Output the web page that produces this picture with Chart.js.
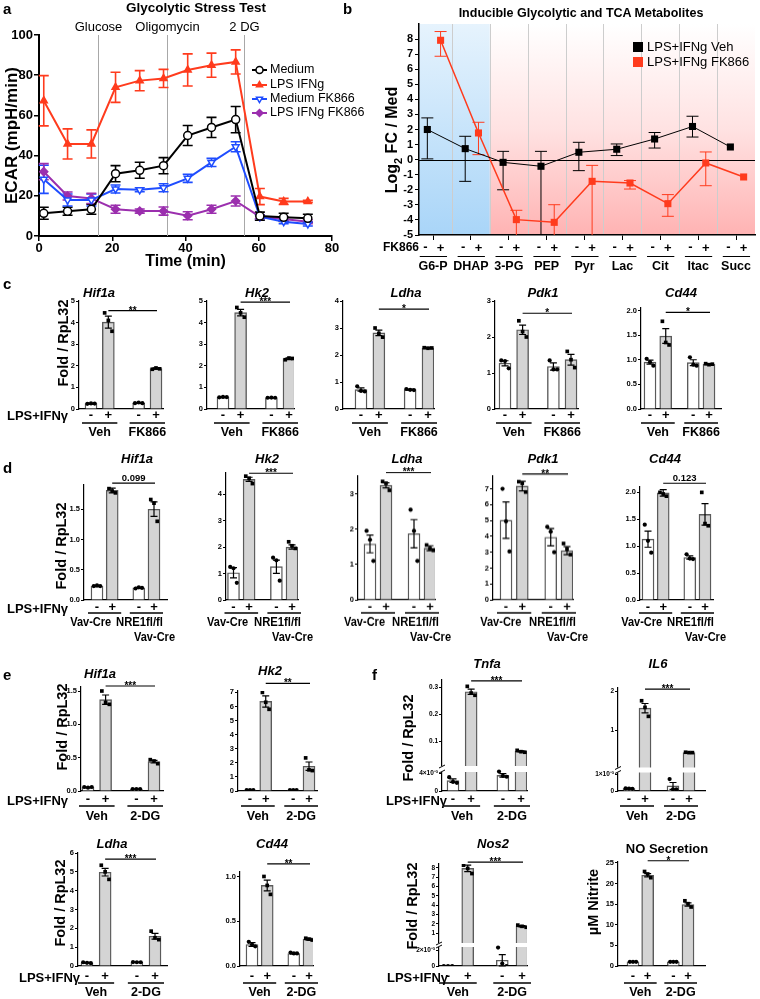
<!DOCTYPE html>
<html>
<head>
<meta charset="utf-8">
<script src="https://cdn.jsdelivr.net/npm/chart.js@4.4.1/dist/chart.umd.min.js"></script>
<style>
  body { margin: 0; background: #fff; }
  #fig { position: relative; width: 760px; height: 999px; overflow: hidden; font-family: "Liberation Sans", Arial, sans-serif; color: #000; }
  #fig canvas { position: absolute; }
  .t { position: absolute; white-space: nowrap; font-weight: bold; line-height: 1; }
</style>
</head>
<body>
<div id="fig"></div>
<script>
// ---- panel a : glycolytic stress test (ECAR) ----
const aTime = [1.3, 7.8, 14.3, 20.9, 27.5, 34, 40.6, 47.1, 53.7, 60.3, 66.8, 73.4];
const aSeries = ['Medium', 'LPS IFNg', 'Medium FK866', 'LPS IFNg FK866'];
const aMedium = [11.3, 12.3, 13.3, 31, 32.7, 35, 50, 54, 57.9, 9.9, 9.3, 8.8];
const aLps = [67.3, 45.8, 45.8, 74, 77.3, 78.4, 82.6, 85, 86.6, 19.6, 17.2, 17.2];
const aMedFk = [28.2, 17.9, 17.9, 23.4, 23, 24, 28.7, 36.6, 44.4, 9.6, 7.1, 6.0];
const aLpsFk = [32, 19.9, 18.7, 13.3, 12.4, 12.4, 10.1, 13.3, 17.4, 9.6, 8.5, 7.1];
const aMediumSem = [3, 2, 2.5, 4, 4, 4, 5, 5, 6.5, 2, 2, 2];
const aLpsSem = [12.5, 7.5, 7, 7.5, 5, 4.5, 8, 6, 6, 4, 1.5, 0.5];
const aMedFkSem = [7, 3, 3, 2, 1, 2, 2, 2, 2.5, 1, 1, 1];
const aLpsFkSem = [4, 2, 2.5, 2, 1, 2, 2, 2, 2.5, 1, 1, 1];
const aInject = [16, 35, 56];
const aInjectNames = ['Glucose', 'Oligomycin', '2 DG'];
const aXTicks = [0, 20, 40, 60, 80];
const aYTicks = [0, 20, 40, 60, 80, 100];

// ---- panel b : metabolites, log2 FC vs medium ----
const bCats = ['G6-P', 'DHAP', '3-PG', 'PEP', 'Pyr', 'Lac', 'Cit', 'Itac', 'Succ'];
const bSeries = ['LPS+IFNg Veh', 'LPS+IFNg FK866'];
const bVeh = [2.0, 0.73, -0.18, -0.44, 0.49, 0.69, 1.37, 2.2, 0.84];
const bVehLo = [0.05, -1.44, -2.0, -5.5, -0.73, 0.27, 0.77, 1.5, 0.84];
const bVehHi = [2.77, 1.55, 0.55, 0.55, 1.15, 1.04, 1.8, 2.88, 0.84];
const bFk = [7.92, 1.77, -3.98, -4.16, -1.44, -1.55, -2.92, -0.22, -1.15];
const bFkLo = [6.86, 0.33, -5.5, -5.5, -5.5, -1.95, -3.76, -1.73, -1.15];
const bFkHi = [8.5, 2.48, -3.36, -2.99, -0.38, -1.39, -2.32, 0.51, -1.15];
const bGlycoCount = 2;   // G6-P and DHAP sit on the blue side
const bTicks = [-5, -4, -3, -2, -1, 0, 1, 2, 3, 4, 5, 6, 7, 8];

// ---- panel c : FK866 qPCR ----
const cGenes = ['Hif1a', 'Hk2', 'Ldha', 'Pdk1', 'Cd44'];
const cGroups = [['Veh'], ['FK866']];
const cMean = [[0.25, 4.02, 0.28, 1.87], [0.55, 4.46, 0.52, 2.33], [0.72, 2.82, 0.72, 2.26], [1.27, 2.2, 1.18, 1.37], [0.95, 1.48, 0.94, 0.91]];
const cSem = [[0.02, 0.28, 0.02, 0.03], [0.02, 0.15, 0.01, 0.04], [0.06, 0.1, 0.02, 0.02], [0.07, 0.13, 0.1, 0.15], [0.04, 0.15, 0.06, 0.01]];
const cPts = [
  [[0.24, 0.26, 0.25], [4.45, 4.1, 3.6], [0.27, 0.3, 0.27], [1.84, 1.9, 1.86]],
  [[0.54, 0.56, 0.55], [4.7, 4.45, 4.25], [0.52, 0.53, 0.52], [2.28, 2.36, 2.34]],
  [[0.84, 0.67, 0.65], [3.0, 2.8, 2.66], [0.74, 0.71, 0.7], [2.27, 2.25, 2.26]],
  [[1.35, 1.33, 1.13], [2.45, 2.15, 2.0], [1.35, 1.1, 1.1], [1.6, 1.37, 1.15]],
  [[1.02, 0.95, 0.88], [1.78, 1.35, 1.3], [1.05, 0.9, 0.88], [0.92, 0.9, 0.91]]];
const cSig = ['**', '***', '*', '*', '*'];
const cTicks = [[0, 1, 2, 3, 4, 5], [0, 1, 2, 3, 4, 5], [0, 1, 2, 3, 4], [0, 1, 2, 3], [0, 0.5, 1, 1.5, 2]];

// ---- panel d : NRE1 knockout qPCR ----
const dGenes = ['Hif1a', 'Hk2', 'Ldha', 'Pdk1', 'Cd44'];
const dGroups = [['Vav-Cre'], ['NRE1fl/fl', 'Vav-Cre']];
const dMean = [[0.23, 1.81, 0.2, 1.5], [1.03, 4.56, 1.26, 2.0], [1.58, 3.24, 1.87, 1.46], [5.02, 7.17, 3.95, 3.1], [1.13, 1.99, 0.79, 1.59]];
const dSem = [[0.01, 0.04, 0.01, 0.12], [0.19, 0.08, 0.25, 0.08], [0.25, 0.07, 0.4, 0.07], [1.15, 0.3, 0.55, 0.25], [0.15, 0.06, 0.03, 0.2]];
const dPts = [
  [[0.23, 0.24, 0.23], [1.84, 1.8, 1.77], [0.19, 0.21, 0.2], [1.66, 1.6, 1.3]],
  [[1.25, 1.2, 0.65], [4.68, 4.6, 4.4], [1.6, 1.5, 0.73], [2.2, 2.05, 1.95]],
  [[1.95, 1.7, 1.1], [3.35, 3.3, 3.1], [2.55, 1.95, 1.1], [1.55, 1.45, 1.4]],
  [[7.0, 4.95, 3.05], [7.45, 7.35, 6.8], [4.6, 4.3, 3.0], [3.55, 3.2, 2.85]],
  [[1.4, 1.1, 0.88], [2.0, 1.97, 1.93], [0.85, 0.77, 0.76], [2.0, 1.42, 1.38]]];
const dSig = ['0.099', '***', '***', '**', '0.123'];
const dTicks = [[0, 0.5, 1, 1.5], [0, 1, 2, 3, 4], [0, 1, 2, 3], [0, 1, 2, 3, 4, 5, 6, 7], [0, 0.5, 1, 1.5, 2]];

// ---- panels e / f : 2-DG ----
const eGenes = ['Hif1a', 'Hk2', 'Tnfa', 'IL6', 'Ldha', 'Cd44', 'Nos2', 'NO Secretion'];
const eGroups = [['Veh'], ['2-DG']];
const eMean = [
  [0.055, 1.37, 0.03, 0.44], [0.06, 6.36, 0.06, 1.76], [0.0024, 0.285, 0.0036, 0.064], [0.00014, 1.56, 0.0003, 0.42],
  [0.17, 4.98, 0.2, 1.58], [0.24, 0.9, 0.14, 0.3], [0, 7.95, 0.00072, 1.73], [1.0, 22.0, 1.0, 14.9]];
const eSem = [
  [0.005, 0.07, 0.002, 0.02], [0.005, 0.4, 0.005, 0.3], [0.0004, 0.01, 0.0004, 0.002], [0.00003, 0.12, 0.0002, 0.005],
  [0.02, 0.2, 0.01, 0.15], [0.02, 0.06, 0.005, 0.01], [0, 0.35, 0.0007, 0.07], [0.05, 0.4, 0.05, 0.4]];
const ePts = [
  [[0.06, 0.05, 0.06], [1.5, 1.33, 1.3], [0.03, 0.03, 0.03], [0.47, 0.45, 0.41]],
  [[0.06, 0.06, 0.06], [7.0, 6.3, 5.8], [0.06, 0.06, 0.06], [2.35, 1.5, 1.45]],
  [[0.0032, 0.0021, 0.0019], [0.305, 0.28, 0.272], [0.0045, 0.0035, 0.0033], [0.068, 0.063, 0.061]],
  [[0.00015, 0.00014, 0.00013], [1.75, 1.58, 1.35], [0.0007, 0.0001, 0.0001], [0.43, 0.42, 0.42]],
  [[0.2, 0.17, 0.15], [5.35, 5.0, 4.6], [0.21, 0.2, 0.2], [1.85, 1.5, 1.4]],
  [[0.27, 0.24, 0.22], [1.0, 0.9, 0.8], [0.15, 0.14, 0.14], [0.31, 0.3, 0.29]],
  [[0, 0, 0], [8.3, 7.95, 7.4], [0.0023, 0.0003, 0], [1.85, 1.72, 1.62]],
  [[1.0, 1.0, 1.0], [22.9, 22.3, 21.4], [1.0, 1.0, 1.0], [15.8, 15.1, 14.3]]];
const eSig = ['***', '**', '***', '***', '***', '**', '***', '*'];
const eTicks = [[0, 0.5, 1, 1.5], [0, 1, 2, 3, 4, 5, 6, 7], [0, 0.004, 0.1, 0.2, 0.3], [0, 0.001, 1, 2],
  [0, 1, 2, 3, 4, 5, 6], [0, 0.5, 1], [0, 0.002, 1, 2, 3, 4, 5, 6, 7, 8], [0, 5, 10, 15, 20, 25]];
const eTickLab = [null, null, ['0', '4×10⁻³', '0.1', '0.2', '0.3'], ['0', '1×10⁻³', '1', '2'], null, null,
  ['0', '2×10⁻³', '1', '2', '3', '4', '5', '6', '7', '8'], null];

// ---- layout (pixel geometry, kept apart from the values) ----
// ax/right: plot x extent, b0/b3: centre of first and last bar, top: y of the axis top
const FONT = '"Liberation Sans", Arial, sans-serif';
const RED = '#ff3b1d', BLUE = '#1f4dff', PURPLE = '#9b2fae';
const rowC = {bottom: 409, B: 34, tp: -1, ul: 14, nm: 24, titleY: 292};
const rowD = {bottom: 600, B: 48, tp: 0, ul: 13, nm: 23, titleY: 458, nameDx: [[-10], [0, 12]]};
const rowE1 = {bottom: 791, B: 34, tp: 1, ul: 15, nm: 26};
const rowE2 = {bottom: 966, B: 33, tp: 3, ul: 17, nm: 27};
const cLay = [
  {ax: 79, right: 163, b0: 91, b3: 156, top: 301, ymax: 5, tx: 99, sigY: 4.55},
  {ax: 207, right: 294, b0: 223, b3: 289, top: 301, ymax: 5, tx: 257, sigY: 4.95},
  {ax: 343, right: 434, b0: 361, b3: 428, top: 301, ymax: 4, tx: 406, sigY: 3.7},
  {ax: 495, right: 578, b0: 505, b3: 571, top: 301, ymax: 3, tx: 543, sigY: 2.66},
  {ax: 641, right: 721, b0: 650, b3: 709, top: 307.5, ymax: 2.05, tx: 681, sigY: 1.96}];
const dLay = [
  {ax: 84, right: 167, b0: 97, b3: 154, top: 484.7, ymax: 1.9, tx: 137, sigY: 1.93},
  {ax: 226, right: 298, b0: 233.5, b3: 292, top: 472.8, ymax: 4.8, tx: 267, sigY: 4.79},
  {ax: 358, right: 435, b0: 370, b3: 430, top: 476.3, ymax: 3.5, tx: 407, sigY: 3.6},
  {ax: 493, right: 573, b0: 506, b3: 567, top: 476.3, ymax: 7.8, tx: 543, sigY: 7.94},
  {ax: 640, right: 713, b0: 648, b3: 705, top: 486.6, ymax: 2.1, tx: 665, sigY: 2.17}];
const eLay = [
  {ax: 81, right: 163, b0: 88, b3: 154, top: 687, ymax: 1.56, tx: 100, ty: 673, sigY: 1.575},
  {ax: 238, right: 317, b0: 250, b3: 309, top: 690.6, ymax: 7.1, tx: 270, ty: 670, sigY: 7.64},
  {ax: 442, right: 527, b0: 453, b3: 521, top: 680, tx: 487, ty: 663, sigY: 0.325,
   brk: {lowMax: 0.004, lowH: 17.3, cut: 0.005, base: 22.3, k: 270, gapLo: 19, gapHi: 25}},
  {ax: 618, right: 705, b0: 629, b3: 689, top: 688, tx: 658, ty: 663, sigY: 2.05,
   brk: {lowMax: 0.001, lowH: 17, cut: 0.0012, base: 22, k: 39, gapLo: 18.5, gapHi: 23.5}},
  {ax: 78, right: 167, b0: 87, b3: 155, top: 853, ymax: 6, tx: 112, ty: 843, sigY: 5.68},
  {ax: 240, right: 313, b0: 252, b3: 309, top: 871.5, ymax: 1.05, tx: 272, ty: 843, sigY: 1.14},
  {ax: 439, right: 527, b0: 448, b3: 522, top: 864, tx: 493, ty: 843, sigY: 8.64,
   brk: {lowMax: 0.002, lowH: 16, cut: 0.0025, base: 23.7, k: 9.29, gapLo: 19, gapHi: 23}},
  {ax: 618, right: 705, b0: 633, b3: 688, top: 862, ymax: 25.2, tx: 667, ty: 848, sigY: 25.5, plain: true}];

Chart.defaults.font.family = FONT;
Chart.defaults.color = '#000';
Chart.defaults.animation = false;
Chart.defaults.responsive = false;
Chart.defaults.events = [];
Chart.defaults.plugins.legend.display = false;
Chart.defaults.plugins.tooltip.enabled = false;

const fig = document.getElementById('fig');

function txt(s, x, y, size, o = {}) {
  const d = document.createElement('div');
  d.className = 't';
  if (o.html) d.innerHTML = s; else d.textContent = s;
  d.style.left = x + 'px';
  d.style.top = y + 'px';
  d.style.fontSize = size + 'px';
  if (o.italic) d.style.fontStyle = 'italic';
  if (o.normal) d.style.fontWeight = 'normal';
  let tf = o.align === 'right' ? 'translate(-100%,-50%)' : o.align === 'left' ? 'translate(0,-50%)' : 'translate(-50%,-50%)';
  if (o.rot) tf += ' rotate(-90deg)';
  d.style.transform = tf;
  fig.appendChild(d);
}

function mkCanvas(x, y, w, h) {
  const c = document.createElement('canvas');
  c.width = w; c.height = h;
  c.style.left = x + 'px'; c.style.top = y + 'px';
  c.style.width = w + 'px'; c.style.height = h + 'px';
  fig.appendChild(c);
  return c;
}

// ================= panel a =================
const aMeans = [aMedium, aLps, aMedFk, aLpsFk];
const aSems = [aMediumSem, aLpsSem, aMedFkSem, aLpsFkSem];
const aCols = ['#000', RED, BLUE, PURPLE];
const aFill = ['#fff', RED, '#fff', PURPLE];
const aMarks = ['circle', 'triangle', 'triangle', 'rectRot'];
const aRot = [0, 0, 180, 0];

const aExtras = {
  id: 'aExtras',
  beforeDatasetsDraw(chart) {
    const {ctx, chartArea: a, scales: {x, y}} = chart;
    ctx.save();
    ctx.strokeStyle = '#a8a8a8';
    ctx.lineWidth = 1;
    ctx.fillStyle = '#000';
    ctx.font = '13px ' + FONT;
    ctx.textAlign = 'center';
    ctx.textBaseline = 'middle';
    aInject.forEach((t, i) => {
      const px = Math.round(x.getPixelForValue(t)) + 0.5;
      ctx.beginPath(); ctx.moveTo(px, a.top); ctx.lineTo(px, a.bottom); ctx.stroke();
      ctx.fillText(aInjectNames[i], px, a.top - 8);
    });
    chart.data.datasets.forEach(ds => {
      ctx.strokeStyle = ds.borderColor;
      ctx.lineWidth = 1.6;
      ds.data.forEach((p, i) => {
        const px = x.getPixelForValue(p.x);
        const y1 = y.getPixelForValue(p.y + ds.sem[i]), y2 = y.getPixelForValue(p.y - ds.sem[i]);
        ctx.beginPath();
        ctx.moveTo(px, y1); ctx.lineTo(px, y2);
        ctx.moveTo(px - 5, y1); ctx.lineTo(px + 5, y1);
        ctx.moveTo(px - 5, y2); ctx.lineTo(px + 5, y2);
        ctx.stroke();
      });
    });
    ctx.restore();
  },
  afterDraw(chart) {
    const {ctx} = chart;
    const ly = [70, 85, 99, 113];
    ctx.save();
    ctx.font = '12.5px ' + FONT;
    ctx.textBaseline = 'middle';
    ctx.textAlign = 'left';
    chart.data.datasets.forEach((ds, k) => {
      ctx.strokeStyle = ds.borderColor;
      ctx.lineWidth = 2;
      ctx.beginPath(); ctx.moveTo(252, ly[k]); ctx.lineTo(267, ly[k]); ctx.stroke();
      ctx.fillStyle = ds.pointBackgroundColor;
      ctx.lineWidth = 1.5;
      Chart.helpers.drawPoint(ctx, {pointStyle: ds.pointStyle, rotation: ds.pointRotation, radius: 3.5, borderWidth: 1.5}, 259.5, ly[k]);
      ctx.fillStyle = '#000';
      ctx.fillText(aSeries[k], 270, ly[k]);
    });
    ctx.restore();
  }
};

new Chart(mkCanvas(0, 0, 380, 275), {
  type: 'line',
  data: {
    datasets: aSeries.map((name, k) => ({
      label: name,
      data: aTime.map((t, i) => ({x: t, y: aMeans[k][i]})),
      sem: aSems[k],
      borderColor: aCols[k],
      borderWidth: 2,
      pointStyle: aMarks[k],
      pointRotation: aRot[k],
      pointRadius: 4,
      pointBackgroundColor: aFill[k],
      pointBorderColor: aCols[k],
      pointBorderWidth: 1.5,
      tension: 0
    }))
  },
  options: {
    layout: {padding: {top: 35, right: 48}},
    scales: {
      x: {
        type: 'linear', min: 0, max: 80,
        grid: {drawOnChartArea: false, tickLength: 5, color: '#000', lineWidth: 1.5},
        border: {color: '#000', width: 2},
        afterBuildTicks: s => { s.ticks = aXTicks.map(v => ({value: v})); },
        afterFit: s => { s.height = 39; },
        ticks: {padding: 0, font: {size: 13, weight: 'bold'}},
        title: {display: true, text: 'Time (min)', font: {size: 16, weight: 'bold'}, padding: {top: 0, bottom: 4}}
      },
      y: {
        min: 0, max: 100,
        grid: {drawOnChartArea: false, tickLength: 5, color: '#000', lineWidth: 1.5},
        border: {color: '#000', width: 2},
        afterBuildTicks: s => { s.ticks = aYTicks.map(v => ({value: v})); },
        afterFit: s => { s.width = 39; },
        ticks: {padding: 1, font: {size: 13, weight: 'bold'}},
        title: {display: true, text: 'ECAR (mpH/min)', font: {size: 17, weight: 'bold'}, padding: {top: 2, bottom: 0}}
      }
    }
  },
  plugins: [aExtras]
});
txt('Glycolytic Stress Test', 196, 8, 13.5);

// ================= panel b =================
const DODGE = [0.35, 0.7];
const bExtras = {
  id: 'bExtras',
  beforeDraw(chart) {
    const {ctx, chartArea: a, scales: {x, y}} = chart;
    const xm = x.getPixelForValue(bGlycoCount);
    ctx.save();
    const gb = ctx.createLinearGradient(0, a.top, 0, a.bottom);
    gb.addColorStop(0, '#e6f3fd'); gb.addColorStop(1, '#a9d5f8');
    ctx.fillStyle = gb;
    ctx.fillRect(a.left, a.top, xm - a.left, a.bottom - a.top);
    const gr = ctx.createLinearGradient(0, a.top, 0, a.bottom);
    gr.addColorStop(0, '#ffffff'); gr.addColorStop(0.5, '#ffe2e2'); gr.addColorStop(1, '#ffb3b3');
    ctx.fillStyle = gr;
    ctx.fillRect(xm, a.top, a.right - xm, a.bottom - a.top);
    ctx.strokeStyle = '#cdcdcd';
    ctx.lineWidth = 1;
    for (let i = 1; i < bCats.length; i++) {
      const px = Math.round(x.getPixelForValue(i)) + 0.5;
      ctx.beginPath(); ctx.moveTo(px, a.top); ctx.lineTo(px, a.bottom); ctx.stroke();
    }
    const zy = Math.round(y.getPixelForValue(0)) + 0.5;
    ctx.strokeStyle = '#000';
    ctx.beginPath(); ctx.moveTo(a.left, zy); ctx.lineTo(a.right, zy); ctx.stroke();
    ctx.restore();
  },
  beforeDatasetsDraw(chart) {
    const {ctx, chartArea: a, scales: {x, y}} = chart;
    ctx.save();
    ctx.beginPath(); ctx.rect(a.left, a.top, a.right - a.left, a.bottom - a.top); ctx.clip();
    chart.data.datasets.forEach(ds => {
      ctx.strokeStyle = ds.borderColor;
      ctx.lineWidth = 1;
      ds.data.forEach((p, i) => {
        if (ds.lo[i] === ds.hi[i]) return;
        const px = x.getPixelForValue(p.x);
        const y1 = y.getPixelForValue(ds.hi[i]), y2 = y.getPixelForValue(ds.lo[i]);
        ctx.beginPath();
        ctx.moveTo(px, y1); ctx.lineTo(px, y2);
        ctx.moveTo(px - 6, y1); ctx.lineTo(px + 6, y1);
        ctx.moveTo(px - 6, y2); ctx.lineTo(px + 6, y2);
        ctx.stroke();
      });
    });
    ctx.restore();
  },
  afterDraw(chart) {
    const {ctx, chartArea: a, scales: {x}} = chart;
    ctx.save();
    // legend
    ctx.font = '13px ' + FONT;
    ctx.textBaseline = 'middle';
    ctx.textAlign = 'left';
    [47, 62].forEach((ly, k) => {
      ctx.fillStyle = chart.data.datasets[k].borderColor;
      ctx.fillRect(253, ly - 5, 10, 10);
      ctx.fillStyle = '#000';
      ctx.fillText(bSeries[k], 267, ly);
    });
    // FK866 -/+ row and metabolite names
    ctx.font = 'bold 12px ' + FONT;
    ctx.fillText('FK866', 3, a.bottom + 13);
    ctx.textAlign = 'center';
    ctx.lineWidth = 1;
    ctx.strokeStyle = '#000';
    bCats.forEach((c, i) => {
      ctx.font = 'bold 13px ' + FONT;
      ctx.fillText('-', x.getPixelForValue(i + DODGE[0]) - 2, a.bottom + 12);
      ctx.fillText('+', x.getPixelForValue(i + DODGE[1]), a.bottom + 13);
      ctx.beginPath();
      ctx.moveTo(x.getPixelForValue(i + 0.15), a.bottom + 21.5);
      ctx.lineTo(x.getPixelForValue(i + 0.87), a.bottom + 21.5);
      ctx.stroke();
      ctx.font = 'bold 12.5px ' + FONT;
      ctx.fillText(c, x.getPixelForValue(i + 0.5), a.bottom + 32, 37);
    });
    ctx.restore();
  }
};

new Chart(mkCanvas(380, 0, 380, 275), {
  type: 'line',
  data: {
    datasets: [
      {label: bSeries[0], data: bCats.map((c, i) => ({x: i + DODGE[0], y: bVeh[i]})), lo: bVehLo, hi: bVehHi,
       borderColor: '#000', borderWidth: 1, pointStyle: 'rect', pointRadius: 5, pointBackgroundColor: '#000', pointBorderWidth: 0, tension: 0},
      {label: bSeries[1], data: bCats.map((c, i) => ({x: i + DODGE[1], y: bFk[i]})), lo: bFkLo, hi: bFkHi,
       borderColor: RED, borderWidth: 1.5, pointStyle: 'rect', pointRadius: 5, pointBackgroundColor: RED, pointBorderWidth: 0, tension: 0}
    ]
  },
  options: {
    layout: {padding: {top: 24, right: 0}},
    scales: {
      x: {
        type: 'linear', min: 0.13, max: 9,
        grid: {drawOnChartArea: false, tickLength: 5, color: '#000'},
        border: {color: '#000', width: 1.5},
        afterBuildTicks: s => { s.ticks = bCats.map((c, i) => ({value: i + 0.5})); },
        afterFit: s => { s.height = 40; },
        ticks: {callback: () => ''}
      },
      y: {
        min: -5, max: 9,
        grid: {drawOnChartArea: false, tickLength: 4, color: '#000'},
        border: {color: '#000', width: 1.5},
        afterBuildTicks: s => { s.ticks = bTicks.map(v => ({value: v})); },
        afterFit: s => { s.width = 39; },
        ticks: {autoSkip: false, padding: 2, font: {size: 11, weight: 'bold'}}
      }
    }
  },
  plugins: [bExtras]
});
txt('Inducible Glycolytic and TCA Metabolites', 581, 13, 12.5);
txt('Log<sub style="font-size:11px">2</sub> FC / Med', 394, 140, 16, {rot: true, html: true});

// ================= bar panels c-f =================
const XS = [0.6, 1.4, 2.8, 3.6];
const PM = ['-', '+', '-', '+'];
const JIT = [-0.17, 0, 0.17];

function brkY(v, b) { return v <= b.cut ? v / b.lowMax * b.lowH : b.base + v * b.k; }

function drawBreak(chart, b) {
  const {ctx, chartArea: a, scales: {y}} = chart;
  const y1 = y.getPixelForValue(b.gapLo), y2 = y.getPixelForValue(b.gapHi);
  ctx.save();
  ctx.fillStyle = '#fff';
  ctx.fillRect(a.left - 4, y2, a.right - a.left + 6, y1 - y2);
  ctx.strokeStyle = '#000';
  ctx.lineWidth = 1;
  ctx.beginPath();
  ctx.moveTo(a.left - 3, y1 + 1); ctx.lineTo(a.left + 3, y1 - 2);
  ctx.moveTo(a.left - 3, y2 + 2); ctx.lineTo(a.left + 3, y2 - 1);
  ctx.stroke();
  ctx.restore();
}

function barPanel(lay, row, d) {
  const L = 34, T = 26, R = 22;
  const f = lay.brk ? v => brkY(v, lay.brk) : v => v;
  const w = lay.right - lay.ax, h = row.bottom - lay.top;
  const ymax = lay.brk ? h : lay.ymax;
  const k = (lay.b3 - lay.b0) / (XS[3] - XS[0]);
  const xmin = XS[0] - (lay.b0 - lay.ax) / k, xmax = xmin + w / k;
  const cv = mkCanvas(lay.ax - L, lay.top - T, L + w + R, T + h + row.B);
  const dec = d.ticks.some(t => t % 1);
  const labs = d.tickLab || d.ticks.map(t => dec ? t.toFixed(1) : String(t));
  const dotsW = [], dotsG = [];
  d.pts.forEach((arr, i) => arr.forEach((v, j) => (i % 2 ? dotsG : dotsW).push({x: XS[i] + JIT[j], y: f(v)})));
  txt(d.title, lay.tx, lay.ty || row.titleY, 13, {italic: !lay.plain});

  new Chart(cv, {
    type: 'bar',
    data: {
      datasets: [
        {data: d.mean.map((m, i) => ({x: XS[i], y: f(m)})), order: 2,
         backgroundColor: ['#fff', '#d4d4d4', '#fff', '#d4d4d4'], borderColor: '#5a5a5a', borderWidth: 1.4, barThickness: 12},
        {type: 'scatter', data: dotsW, order: 1, pointStyle: 'circle', pointRadius: 2.1, pointBackgroundColor: '#000', pointBorderWidth: 0},
        {type: 'scatter', data: dotsG, order: 1, pointStyle: 'rect', pointRadius: 2.6, pointBackgroundColor: '#000', pointBorderWidth: 0}
      ]
    },
    options: {
      layout: {padding: {top: T, right: R}},
      scales: {
        x: {
          type: 'linear', min: xmin, max: xmax, offset: false,
          grid: {display: false, drawTicks: false, offset: false},
          border: {color: '#000', width: 1.2},
          afterBuildTicks: s => { s.ticks = XS.map(v => ({value: v})); },
          afterFit: s => { s.height = row.B; },
          ticks: {autoSkip: false, maxRotation: 0, padding: row.tp, font: {size: 13, weight: 'bold'}, callback: (v, i) => PM[i]}
        },
        y: {
          min: 0, max: ymax,
          grid: {drawOnChartArea: false, tickLength: 3, color: '#000'},
          border: {color: '#000', width: 1.2},
          afterBuildTicks: s => { s.ticks = d.ticks.map(v => ({value: f(v)})); },
          afterFit: s => { s.width = L; },
          ticks: {autoSkip: false, padding: 1, font: {size: lay.brk ? 6.5 : 7.5, weight: 'bold'}, callback: (v, i) => labs[i]}
        }
      }
    },
    plugins: [{
      id: 'barExtras',
      afterDatasetDraw(chart, args) {
        if (args.index === 0 && lay.brk) drawBreak(chart, lay.brk);
      },
      afterDatasetsDraw(chart) {
        const {ctx, scales: {x, y}} = chart;
        ctx.save();
        ctx.strokeStyle = '#000';
        ctx.lineWidth = 1.2;
        d.mean.forEach((m, i) => {
          const s = d.sem[i];
          if (!s) return;
          const px = x.getPixelForValue(XS[i]);
          const y1 = y.getPixelForValue(f(m + s)), y2 = y.getPixelForValue(f(Math.max(0, m - s)));
          ctx.beginPath();
          ctx.moveTo(px, y1); ctx.lineTo(px, y2);
          ctx.moveTo(px - 3.5, y1); ctx.lineTo(px + 3.5, y1);
          ctx.moveTo(px - 3.5, y2); ctx.lineTo(px + 3.5, y2);
          ctx.stroke();
        });
        ctx.restore();
      },
      afterDraw(chart) {
        const {ctx, chartArea: a, scales: {x, y}} = chart;
        ctx.save();
        ctx.strokeStyle = '#000';
        ctx.fillStyle = '#000';
        ctx.lineWidth = 1.2;
        // significance bracket between the two stimulated bars
        const sy = y.getPixelForValue(f(lay.sigY));
        const x1 = x.getPixelForValue(XS[1]), x2 = x.getPixelForValue(XS[3]) + 1;
        ctx.beginPath(); ctx.moveTo(x1, sy); ctx.lineTo(x2, sy); ctx.stroke();
        const star = d.sig.includes('*');
        ctx.font = 'bold ' + (star ? 10 : 9.5) + 'px ' + FONT;
        ctx.textAlign = 'center';
        ctx.textBaseline = 'alphabetic';
        ctx.fillText(d.sig, (x1 + x2) / 2, star ? sy + 3 : sy - 2.5);
        // treatment groups under the -/+ labels
        ctx.lineWidth = 1.3;
        ctx.textBaseline = 'middle';
        ctx.font = 'bold 12.5px ' + FONT;
        d.groups.forEach((lines, g) => {
          const u1 = x.getPixelForValue(XS[2 * g]) - 9, u2 = x.getPixelForValue(XS[2 * g + 1]) + 9;
          const uy = a.bottom + row.ul;
          ctx.beginPath(); ctx.moveTo(u1, uy); ctx.lineTo(u2, uy); ctx.stroke();
          lines.forEach((s, j) => {
            const ny = a.bottom + row.nm + j * 15;
            if (row.nameDx) {
              ctx.textAlign = 'right';
              ctx.fillText(s, u2 + row.nameDx[g][j], ny, s.length > 7 ? 47 : 41);
            } else {
              ctx.textAlign = 'center';
              ctx.fillText(s, (u1 + u2) / 2, ny);
            }
          });
        });
        ctx.restore();
      }
    }]
  });
}

cGenes.forEach((g, i) => barPanel(cLay[i], rowC,
  {title: g, mean: cMean[i], sem: cSem[i], pts: cPts[i], ticks: cTicks[i], sig: cSig[i], groups: cGroups}));
dGenes.forEach((g, i) => barPanel(dLay[i], rowD,
  {title: g, mean: dMean[i], sem: dSem[i], pts: dPts[i], ticks: dTicks[i], sig: dSig[i], groups: dGroups}));
eGenes.forEach((g, i) => barPanel(eLay[i], i < 4 ? rowE1 : rowE2,
  {title: g, mean: eMean[i], sem: eSem[i], pts: ePts[i], ticks: eTicks[i], tickLab: eTickLab[i], sig: eSig[i], groups: eGroups}));

// axis titles, stimulation labels, panel letters
[[63, 343], [61, 546], [62, 727], [60, 903], [408, 738], [412, 906]].forEach(p => txt('Fold / RpL32', p[0], p[1], 14.5, {rot: true}));
txt('µM Nitrite', 593, 902, 14.5, {rot: true});
[[68, 415], [68, 608], [68, 800], [447, 800], [80, 977], [448, 977]].forEach(p => txt('LPS+IFNγ', p[0], p[1], 13, {align: 'right'}));
[['a', 3, 8], ['b', 343, 8], ['c', 3, 283], ['d', 3, 467], ['e', 3, 674], ['f', 372, 674]].forEach(p => txt(p[0], p[1], p[2], 15, {align: 'left'}));
</script>
</body>
</html>
